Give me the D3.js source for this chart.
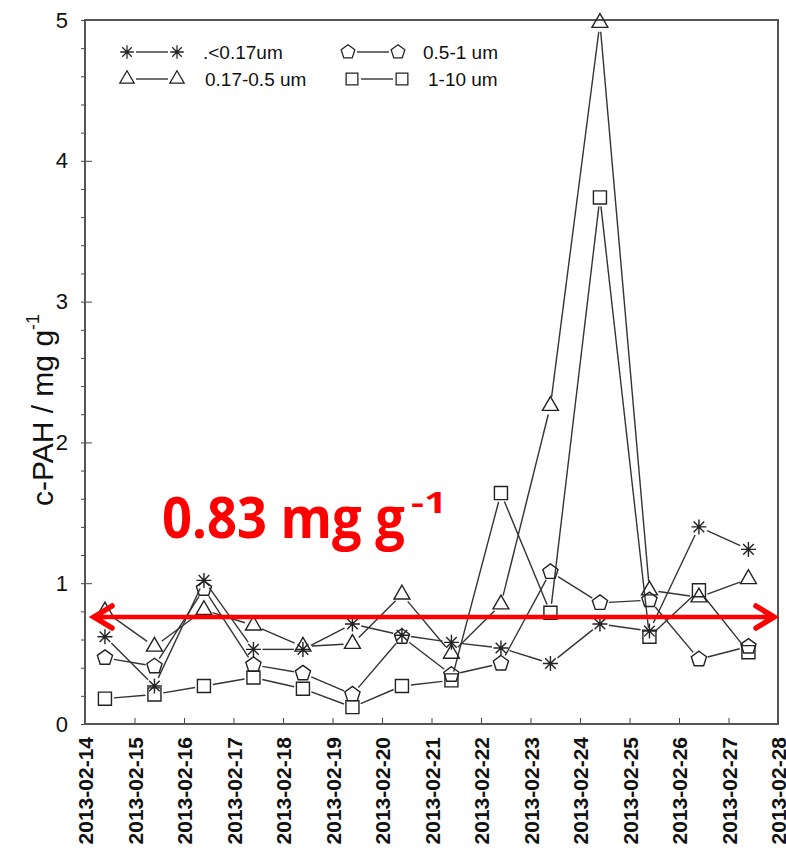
<!DOCTYPE html>
<html>
<head>
<meta charset="utf-8">
<script src="https://cdn.jsdelivr.net/npm/d3@7"></script>
<style>
  body { margin: 0; background: #fff; }
  svg { display: block; }
</style>
</head>
<body>
<svg id="chart" width="786" height="852"></svg>
<script>
// sampling times (each day around 09:40)
const dates = [
  "2013-02-14 09:40", "2013-02-15 09:40", "2013-02-16 09:40", "2013-02-17 09:40",
  "2013-02-18 09:40", "2013-02-19 09:40", "2013-02-20 09:40", "2013-02-21 09:40",
  "2013-02-22 09:40", "2013-02-23 09:40", "2013-02-24 09:40", "2013-02-25 09:40",
  "2013-02-26 09:40", "2013-02-27 09:40"
];
const below017 = [0.62, 0.27, 1.02, 0.53, 0.53, 0.71, 0.63, 0.58, 0.54, 0.43, 0.71, 0.66, 1.40, 1.24];
const from017to05 = [0.80, 0.55, 0.81, 0.70, 0.55, 0.57, 0.92, 0.50, 0.85, 2.26, 4.98, 0.95, 0.90, 1.03];
const from05to1 = [0.47, 0.41, 0.96, 0.42, 0.36, 0.21, 0.62, 0.35, 0.43, 1.08, 0.86, 0.88, 0.46, 0.55];
const from1to10 = [0.18, 0.21, 0.27, 0.33, 0.25, 0.12, 0.27, 0.31, 1.64, 0.79, 3.74, 0.62, 0.95, 0.51];
const seriesNames = [".<0.17um", "0.17-0.5 um", "0.5-1 um", "1-10 um"];
const meanValue = 0.76;   // where the red arrow sits
const meanLabel = "0.83 mg g";

const parse = d3.timeParse("%Y-%m-%d %H:%M");
const plotL = 85, plotR = 778, plotT = 20, plotB = 724;

const svg = d3.select("#chart");
svg.append("rect").attr("width", 786).attr("height", 852).attr("fill", "#fff");

const x = d3.scaleTime()
  .domain([new Date(2013, 1, 14), new Date(2013, 1, 28)])
  .range([plotL, plotR]);
const y = d3.scaleLinear().domain([0, 5]).range([plotB, plotT]);

// minor y ticks
svg.append("g")
  .attr("transform", `translate(${plotL},0)`)
  .call(d3.axisLeft(y).tickValues(d3.range(0, 5.01, 0.2)).tickSize(4).tickFormat(""))
  .call(g => g.select(".domain").remove())
  .call(g => g.selectAll("line").attr("stroke", "#444"));

// major y ticks
const yAxis = svg.append("g")
  .attr("transform", `translate(${plotL},0)`)
  .call(d3.axisLeft(y).tickValues([0, 1, 2, 3, 4, 5]).tickSize(-7).tickPadding(17).tickFormat(d3.format("d")));
yAxis.select(".domain").remove();
yAxis.selectAll("line").attr("stroke", "#444");
yAxis.selectAll("text")
  .attr("font-family", "Liberation Sans, Arial, sans-serif")
  .attr("font-size", 22).attr("fill", "#111");

// x axis
const xAxis = svg.append("g")
  .attr("transform", `translate(0,${plotB})`)
  .call(d3.axisBottom(x).ticks(d3.timeDay.every(1)).tickSize(-6).tickFormat(d3.timeFormat("%Y-%m-%d")));
xAxis.select(".domain").remove();
xAxis.selectAll("line").attr("stroke", "#444");
xAxis.selectAll("text")
  .attr("font-family", "Liberation Sans, Arial, sans-serif")
  .attr("font-size", 21).attr("font-weight", "bold").attr("fill", "#111")
  .attr("text-anchor", "end")
  .attr("transform", "rotate(-90)")
  .attr("x", -13).attr("y", 0).attr("dy", "0.36em");

// frame
svg.append("rect")
  .attr("x", plotL).attr("y", plotT)
  .attr("width", plotR - plotL).attr("height", plotB - plotT)
  .attr("fill", "none").attr("stroke", "#555").attr("stroke-width", 2);

// y label
const yl = svg.append("text")
  .attr("transform", "translate(53,410) rotate(-90)")
  .attr("text-anchor", "middle")
  .attr("font-family", "Liberation Sans, Arial, sans-serif")
  .attr("font-size", 30).attr("fill", "#111");
yl.append("tspan").text("c-PAH / mg g");
yl.append("tspan").attr("dy", -14).attr("font-size", 18).text("-1");

// marker shapes
function pentagon(r) {
  const pts = d3.range(5).map(i => {
    const a = -Math.PI / 2 + i * 2 * Math.PI / 5;
    return [r * Math.cos(a), r * Math.sin(a)];
  });
  return "M" + pts.join("L") + "Z";
}
function asterisk(r) {
  let p = "";
  for (let i = 0; i < 4; i++) {
    const a = i * Math.PI / 4;
    p += `M${-r * Math.cos(a)},${-r * Math.sin(a)}L${r * Math.cos(a)},${r * Math.sin(a)}`;
  }
  return p;
}
const shapes = [
  asterisk(7.5),
  d3.symbol(d3.symbolTriangle, 110)(),
  pentagon(8),
  d3.symbol(d3.symbolSquare, 170)()
];

const allSeries = [below017, from017to05, from05to1, from1to10];
const times = dates.map(parse);

// connecting lines, stopping short of the markers
allSeries.forEach(vals => {
  const pts = vals.map((v, i) => [x(times[i]), y(v)]);
  const segs = [];
  for (let i = 0; i < pts.length - 1; i++) {
    const [x0, y0] = pts[i], [x1, y1] = pts[i + 1];
    const len = Math.hypot(x1 - x0, y1 - y0), gap = 9;
    if (len <= 2 * gap) continue;
    const ux = (x1 - x0) / len, uy = (y1 - y0) / len;
    segs.push([x0 + ux * gap, y0 + uy * gap, x1 - ux * gap, y1 - uy * gap]);
  }
  svg.append("g").selectAll("line").data(segs).enter().append("line")
    .attr("x1", d => d[0]).attr("y1", d => d[1])
    .attr("x2", d => d[2]).attr("y2", d => d[3])
    .attr("stroke", "#333").attr("stroke-width", 1.4);
});

// markers
allSeries.forEach((vals, k) => {
  svg.append("g").selectAll("path").data(vals).enter().append("path")
    .attr("d", shapes[k])
    .attr("transform", (v, i) => `translate(${x(times[i])},${y(v)})`)
    .attr("fill", "none").attr("stroke", "#222").attr("stroke-width", 1.4);
});

// legend
const legend = [
  { k: 0, x1: 127, x2: 177, tx: 203, y: 52 },
  { k: 1, x1: 127, x2: 177, tx: 205, y: 79 },
  { k: 2, x1: 348, x2: 398, tx: 423, y: 52 },
  { k: 3, x1: 352, x2: 402, tx: 428, y: 79 }
];
legend.forEach(l => {
  const g = svg.append("g");
  g.append("line").attr("x1", l.x1 + 9).attr("x2", l.x2 - 9)
    .attr("y1", l.y).attr("y2", l.y).attr("stroke", "#333").attr("stroke-width", 1.4);
  [l.x1, l.x2].forEach(px => g.append("path").attr("d", shapes[l.k])
    .attr("transform", `translate(${px},${l.y}) scale(0.9)`)
    .attr("fill", "none").attr("stroke", "#222").attr("stroke-width", 1.4));
  g.append("text").attr("x", l.tx).attr("y", l.y + 6.5)
    .attr("font-family", "Liberation Sans, Arial, sans-serif")
    .attr("font-size", 19).attr("fill", "#111")
    .text(seriesNames[l.k]);
});

// red arrow
const ay = y(meanValue), ax0 = 92, ax1 = 776;
svg.append("line").attr("x1", ax0 + 3).attr("x2", ax1 - 3).attr("y1", ay).attr("y2", ay)
  .attr("stroke", "#f00").attr("stroke-width", 4.5);
svg.append("path")
  .attr("d", `M${ax0 + 20},${ay - 11}L${ax0 + 2},${ay}L${ax0 + 20},${ay + 11}` +
             `M${ax1 - 20},${ay - 11}L${ax1 - 2},${ay}L${ax1 - 20},${ay + 11}`)
  .attr("fill", "none").attr("stroke", "#f00").attr("stroke-width", 5.5)
  .attr("stroke-linejoin", "miter").attr("stroke-linecap", "round");

// red label
svg.append("text").attr("x", 162).attr("y", 538)
  .attr("font-family", "Open Sans, Noto Sans, sans-serif").attr("font-weight", "bold")
  .attr("font-size", 58).attr("fill", "#f00")
  .attr("textLength", 243).attr("lengthAdjust", "spacingAndGlyphs")
  .text(meanLabel);
svg.append("text").attr("x", 411).attr("y", 513)
  .attr("font-family", "Open Sans, Noto Sans, sans-serif").attr("font-weight", "bold")
  .attr("font-size", 29).attr("fill", "#f00")
  .attr("textLength", 36).attr("lengthAdjust", "spacingAndGlyphs")
  .text("-1");
</script>
</body>
</html>
